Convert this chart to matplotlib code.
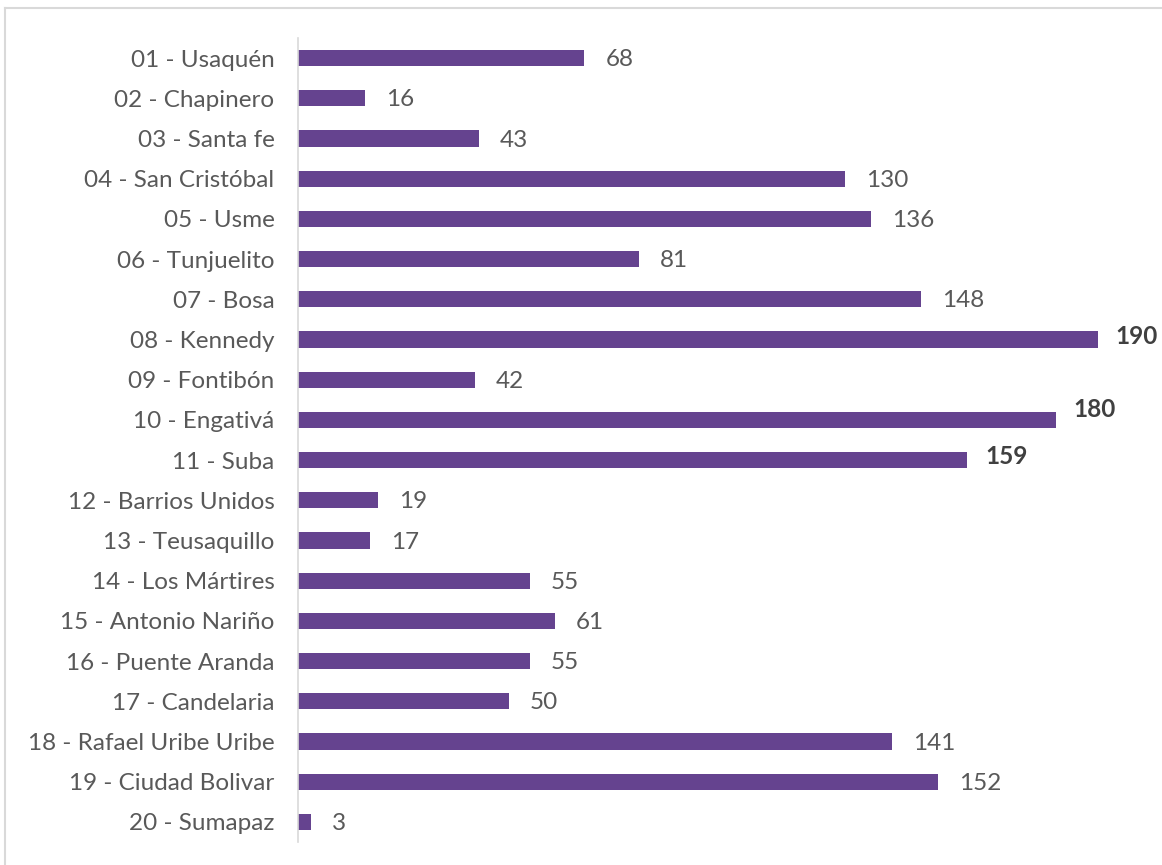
import matplotlib.pyplot as plt
from matplotlib.lines import Line2D

# localidades de Bogota
localidades = ['01 - Usaquén', '02 - Chapinero', '03 - Santa fe', '04 - San Cristóbal',
               '05 - Usme', '06 - Tunjuelito', '07 - Bosa', '08 - Kennedy',
               '09 - Fontibón', '10 - Engativá', '11 - Suba', '12 - Barrios Unidos',
               '13 - Teusaquillo', '14 - Los Mártires', '15 - Antonio Nariño',
               '16 - Puente Aranda', '17 - Candelaria', '18 - Rafael Uribe Uribe',
               '19 - Ciudad Bolivar', '20 - Sumapaz']
casos = [68, 16, 43, 130, 136, 81, 148, 190, 42, 180, 159, 19, 17, 55, 61, 55, 50, 141, 152, 3]
destacados = ['08 - Kennedy', '10 - Engativá', '11 - Suba']

plt.rcParams['font.family'] = ['Lato', 'DejaVu Sans']

fig = plt.figure(figsize=(11.62, 8.65), dpi=100)
ax = fig.add_axes([0.2565, 0.0266, 0.7245, 0.9295])

y = list(range(len(localidades)))
ax.barh(y, casos, height=0.4, color='#65438F')
ax.set_ylim(len(localidades) - 0.5, -0.5)
ax.set_xlim(0, 200)
ax.set_yticks(y)
ax.set_yticklabels(localidades, fontsize=17.5, color='#595959')
ax.tick_params(axis='y', length=0, pad=17)
ax.set_xticks([])

for s in ['top', 'right', 'bottom']:
    ax.spines[s].set_visible(False)
ax.spines['left'].set_color('#d9d9d9')
ax.spines['left'].set_linewidth(1.2)

for i, (nombre, v) in enumerate(zip(localidades, casos)):
    if nombre in destacados:
        dy = -0.25 if nombre == '10 - Engativá' else -0.08
        ax.text(v + 4.2, i + dy, str(v), va='center', ha='left', fontsize=17.5,
                fontweight='bold', color='#404040')
    else:
        ax.text(v + 5, i + 0.04, str(v), va='center', ha='left', fontsize=17.5,
                color='#595959')

# marco exterior
fig.add_artist(Line2D([0.0045, 0.0045], [0, 0.991], transform=fig.transFigure,
                      color='#d9d9d9', lw=1.5))
fig.add_artist(Line2D([0.0045, 1], [0.991, 0.991], transform=fig.transFigure,
                      color='#d9d9d9', lw=1.5))

fig.savefig('out.png', dpi=100)
